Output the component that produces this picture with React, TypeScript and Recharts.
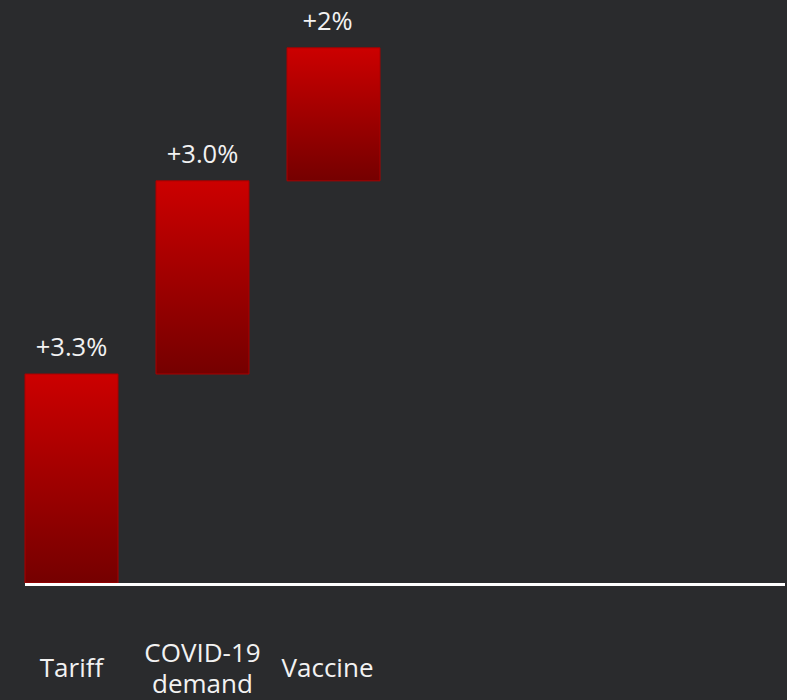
import { BarChart, Bar, XAxis, YAxis, LabelList } from 'recharts';

// waterfall steps: each bar floats from the running total before it
const categories = ['Tariff', 'COVID-19 demand', 'Vaccine'];
const starts = [0, 3.3, 6.35];
const ends = [3.3, 6.35, 8.45];
const valueLabels = ['+3.3%', '+3.0%', '+2%'];

const data = categories.map((name, i) => ({
  name,
  range: [starts[i], ends[i]],
  label: valueLabels[i],
}));

const BG = '#2a2b2d';
const TEXT = '#f2f2f2';
const FONT = '"Open Sans", sans-serif';

// the last column's texts sit a little left of its bar in the original
const nudge = (i: number) => (i === 2 ? -6 : 0);

function CategoryTick(props: any) {
  const { x, payload, index } = props;
  const lines = String(payload.value).split(' ');
  const lineH = 31;
  const first = 677 - ((lines.length - 1) * lineH) / 2;
  return (
    <text
      x={x + nudge(index)}
      textAnchor="middle"
      fill={TEXT}
      fontSize={26}
      fontFamily={FONT}
    >
      {lines.map((l, k) => (
        <tspan key={k} x={x + nudge(index)} y={first + k * lineH}>
          {l}
        </tspan>
      ))}
    </text>
  );
}

function ValueLabel(props: any) {
  const { x, y, width, value, index } = props;
  return (
    <text
      x={x + width / 2 + nudge(index)}
      y={y - 18}
      textAnchor="middle"
      fill={TEXT}
      fontSize={25.5}
      fontFamily={FONT}
    >
      {value}
    </text>
  );
}

export default function App() {
  return (
    <div
      style={{
        position: 'absolute',
        left: 0,
        top: 0,
        width: 787,
        height: 700,
        background: BG,
        overflow: 'hidden',
      }}
    >
      <BarChart
        width={787}
        height={700}
        data={data}
        margin={{ top: 13, right: 2, left: 25, bottom: 0 }}
        barCategoryGap={19}
      >
        <defs>
          <linearGradient id="redFade" x1="0" y1="0" x2="0" y2="1">
            <stop offset="0%" stopColor="#cc0000" />
            <stop offset="100%" stopColor="#750000" />
          </linearGradient>
        </defs>
        <YAxis hide domain={[0, 9]} />
        <XAxis
          dataKey="name"
          height={117}
          padding={{ left: -19, right: 386 }}
          axisLine={{ stroke: '#ffffff', strokeWidth: 3, transform: 'translate(0,1.5)' }}
          tickLine={false}
          interval={0}
          tick={<CategoryTick />}
        />
        <Bar
          dataKey="range"
          fill="url(#redFade)"
          stroke="#a80000"
          strokeWidth={1}
          isAnimationActive={false}
        >
          <LabelList dataKey="label" content={<ValueLabel />} />
        </Bar>
      </BarChart>
    </div>
  );
}
